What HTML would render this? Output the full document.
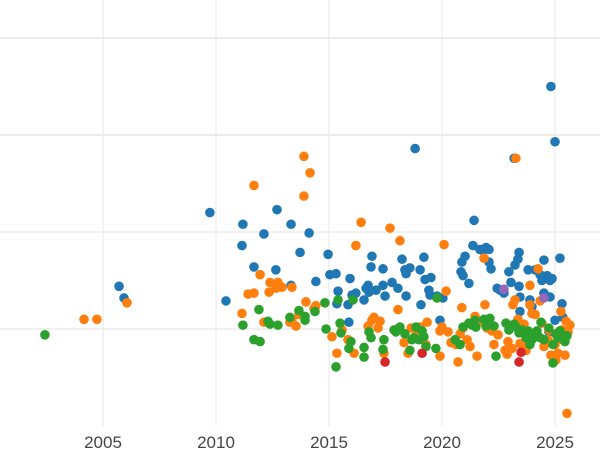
<!DOCTYPE html>
<html><head><meta charset="utf-8"><style>
html,body{margin:0;padding:0;background:#fff}
svg{display:block;font-family:"Liberation Sans",sans-serif}
</style></head><body>
<svg id="chart" width="600" height="450" viewBox="0 0 600 450">
<g id="grid"></g>
<g id="pts"></g>
<g id="xt"></g>
</svg>
<script>
const xTicks=[2005,2010,2015,2020,2025];
const yGrid=[0,100,200,300];
const blueYears=[2005.71,2005.93,2009.73,2010.44,2011.19,2011.15,2011.68,2012.12,2012.70,2012.65,2013.32,2013.32,2013.72,2014.12,2014.42,2014.96,2015.04,2015.31,2015.40,2015.35,2015.84,2015.93,2015.88,2016.02,2016.19,2016.55,2016.64,2016.73,2016.77,2016.90,2016.86,2017.08,2017.39,2017.39,2017.48,2017.79,2018.05,2018.23,2018.36,2018.41,2018.41,2018.58,2018.81,2019.03,2019.07,2019.20,2019.25,2019.42,2019.47,2019.51,2019.78,2019.91,2020.04,2020.84,2020.88,2020.93,2021.02,2021.19,2021.42,2021.37,2021.68,2021.81,2021.95,2022.08,2022.08,2022.17,2022.44,2022.57,2022.74,2022.96,2023.05,2023.23,2023.19,2023.41,2023.36,2023.41,2023.45,2023.45,2023.81,2023.89,2023.98,2024.12,2024.34,2024.42,2024.51,2024.65,2024.51,2024.78,2024.78,2024.82,2024.87,2025.00,2025.22,2025.31,2025.35,2025.00,2024.73];
const blueValues=[44,32,120,29,108,86,64,98,123,61,108,45,79,99,49,77,56,57,39,26,25,52,7,35,37,30,42,45,38,75,64,40,45,62,34,48,42,72,61,57,34,63,186,61,25,74,51,40,35,53,34,9,32,59,69,55,75,47,112,86,82,81,84,69,82,62,42,40,37,59,48,66,176,79,72,44,33,18,61,30,23,61,56,50,71,55,37,33,50,250,52,193,73,26,12,9,-3];
const orangeYears=[2004.16,2004.73,2006.06,2011.15,2011.42,2011.68,2011.68,2011.95,2012.12,2012.35,2012.39,2012.65,2012.74,2012.92,2013.27,2013.36,2013.36,2013.54,2013.67,2013.89,2013.89,2013.98,2014.16,2014.34,2014.42,2015.13,2015.35,2015.58,2015.84,2016.11,2016.19,2016.42,2016.73,2016.90,2016.99,2017.17,2017.26,2017.43,2017.70,2017.92,2018.05,2018.14,2018.32,2018.50,2018.63,2018.81,2018.94,2019.03,2019.29,2019.34,2019.91,2019.91,2020.00,2020.09,2020.18,2020.27,2020.40,2020.62,2020.71,2020.80,2020.88,2020.93,2021.11,2021.24,2021.46,2021.55,2021.68,2021.86,2021.90,2021.99,2022.21,2022.30,2022.48,2022.79,2022.88,2022.92,2023.10,2023.14,2023.23,2023.27,2023.36,2023.45,2023.54,2023.63,2023.72,2023.76,2023.89,2023.89,2023.98,2024.12,2024.25,2024.34,2024.42,2024.51,2024.69,2024.73,2024.82,2025.00,2025.13,2025.22,2025.31,2025.31,2025.49,2025.53,2025.58,2025.66,2025.04,2025.44,2025.26];
const orangeValues=[10,10,27,16,36,148,37,56,7,38,48,42,48,43,7,43,10,3,15,178,137,28,161,21,24,-8,-25,-1,-11,-25,86,110,3,9,12,1,8,-25,104,-1,20,91,-14,-25,1,0,-1,2,-16,7,-2,-28,2,87,39,-3,-14,-16,-34,-5,22,1,-11,-18,13,-28,8,73,25,1,-2,-16,-6,-22,-26,-13,-20,25,30,176,10,-15,-1,5,-22,-16,45,25,16,15,62,29,6,-18,-11,-1,-27,-16,-25,-2,-1,-11,8,-87,-3,4,-32,-27,18];
const greenYears=[2002.43,2011.19,2011.68,2011.95,2011.90,2012.30,2012.39,2012.74,2013.27,2013.67,2013.94,2013.94,2014.38,2014.82,2014.87,2015.31,2015.40,2015.49,2015.53,2015.88,2015.97,2016.06,2016.55,2016.55,2016.77,2016.86,2017.39,2017.43,2017.88,2017.96,2018.14,2018.36,2018.58,2018.67,2018.76,2018.85,2018.98,2019.12,2019.20,2019.29,2019.73,2019.78,2020.58,2020.80,2020.93,2021.19,2021.33,2021.42,2021.46,2021.50,2021.86,2021.95,2022.12,2022.30,2022.39,2022.83,2022.96,2023.19,2023.27,2023.41,2023.54,2023.72,2023.81,2023.89,2023.98,2024.12,2024.20,2024.34,2024.38,2024.51,2024.73,2024.91,2025.04,2025.13,2025.22,2025.53,2024.91,2025.44];
const greenValues=[-6,4,-11,-13,20,8,5,4,12,19,13,9,18,27,0,-39,30,6,-4,-20,-13,30,-29,-19,-3,-9,-21,-11,-1,-3,2,-5,-22,-11,-9,2,-11,-2,-8,-18,-20,32,-11,-16,2,6,4,7,9,2,10,3,11,3,-28,6,-1,5,2,-4,-1,-9,-2,-16,-11,-6,-2,-9,7,-11,1,-35,-5,-9,-2,-7,-16,-13];
const redYears=[2017.48,2019.12,2023.50,2023.41];
const redValues=[-34,-25,-24,-34];
const purpleYears=[2022.74,2024.51];
const purpleValues=[41,32];

const NS='http://www.w3.org/2000/svg';
const xs=y=>103+(y-2005)*22.6;
const ys=v=>329-v*0.97;
const grid=document.getElementById('grid');
yGrid.forEach(v=>{
  const l=document.createElementNS(NS,'line');
  
  
  l.setAttribute('x1',0);l.setAttribute('x2',600);l.setAttribute('y1',ys(v));l.setAttribute('y2',ys(v));
  l.setAttribute('stroke','#ebebeb');l.setAttribute('stroke-width',v>=200?2:1.5);
  grid.appendChild(l);
});
const xt=document.getElementById('xt');
xTicks.forEach(t=>{
  const l=document.createElementNS(NS,'line');
  
  
  l.setAttribute('x1',xs(t));l.setAttribute('x2',xs(t));l.setAttribute('y1',0);l.setAttribute('y2',426);
  l.setAttribute('stroke','#ebebeb');l.setAttribute('stroke-width',1.2);
  grid.appendChild(l);
  const tx=document.createElementNS(NS,'text');
  
  
  tx.setAttribute('x',xs(t));tx.setAttribute('y',448);tx.setAttribute('text-anchor','middle');
  tx.setAttribute('font-size','17');tx.setAttribute('fill','#444');
  tx.textContent=t;
  xt.appendChild(tx);
});
const pts=document.getElementById('pts');
function series(xa,va,color,name){
  xa.forEach((x,i)=>{
    const c=document.createElementNS(NS,'circle');
    
    
    c.setAttribute('cx',xs(x));c.setAttribute('cy',ys(va[i]));c.setAttribute('r',4.8);
    c.setAttribute('fill',color);
    pts.appendChild(c);
  });
}
series(blueYears,blueValues,'#1f77b4','blue-point');
series(orangeYears,orangeValues,'#ff7f0e','orange-point');
series(greenYears,greenValues,'#2ca02c','green-point');
series(redYears,redValues,'#d62728','red-point');
series(purpleYears,purpleValues,'#9467bd','purple-point');
</script>
</body></html>
